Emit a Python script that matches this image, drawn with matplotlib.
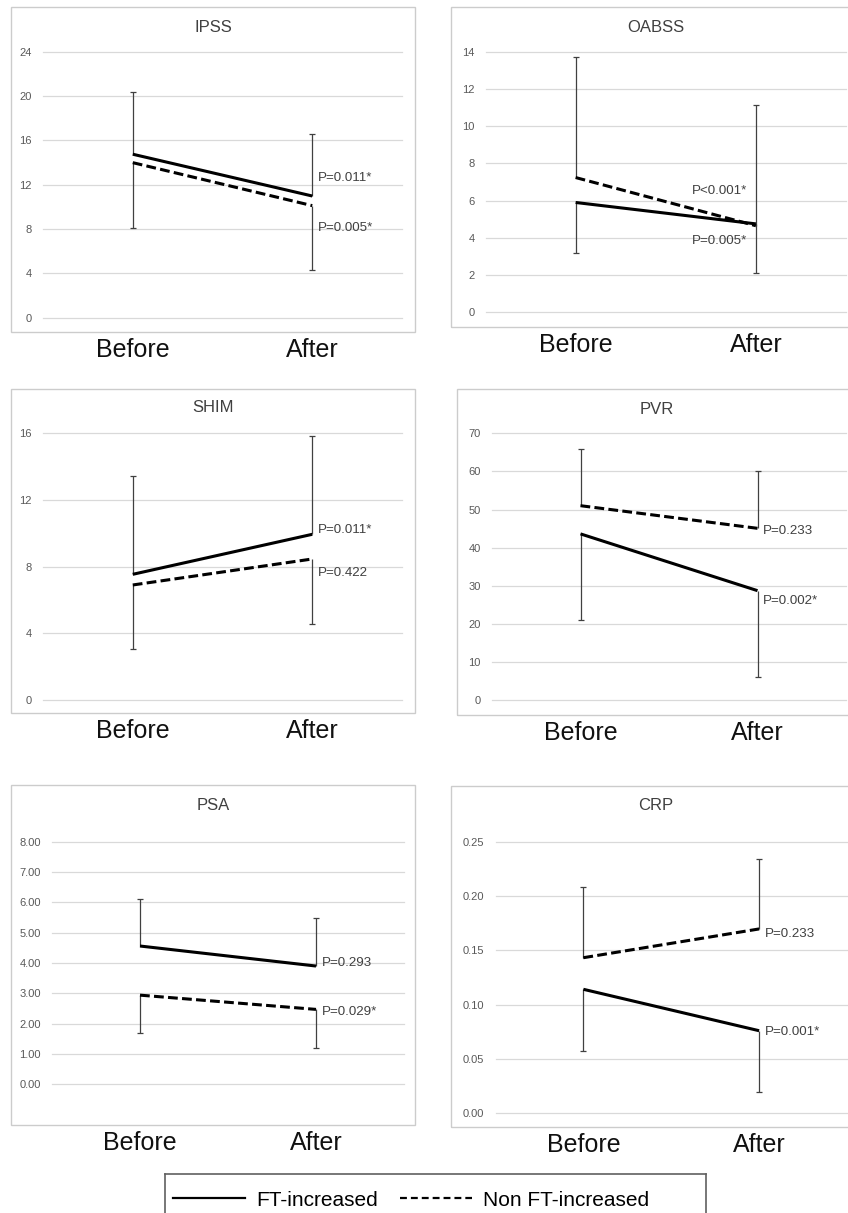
import matplotlib
matplotlib.use("Agg")
import matplotlib.pyplot as plt
from matplotlib.patches import Rectangle
from matplotlib.lines import Line2D

plt.rcParams['font.family'] = ['Liberation Sans', 'DejaVu Sans']

# ---- data ----
titles = ['IPSS', 'OABSS', 'SHIM', 'PVR', 'PSA', 'CRP']
groups = ['Before', 'After']

ft_mean = [[14.75, 10.98], [5.90, 4.75], [7.54, 9.94], [43.6, 28.7], [4.56, 3.90], [0.1141, 0.0758]]
ft_sd = [[5.65, 5.62], [2.73, 2.65], [5.92, 5.92], [22.6, 22.6], [1.54, 1.59], [0.0570, 0.0567]]
non_mean = [[13.99, 10.11], [7.24, 4.65], [6.90, 8.46], [51.0, 45.06], [2.94, 2.47], [0.1433, 0.1699]]
non_sd = [[5.87, 5.81], [6.46, 6.48], [3.86, 3.92], [14.8, 14.94], [1.26, 1.28], [0.0652, 0.0650]]
ft_bar_up = [True, False, True, False, True, False]   # which side the FT-increased error bar goes

p_ft = ['P=0.011*', 'P=0.005*', 'P=0.011*', 'P=0.002*', 'P=0.293', 'P=0.001*']
p_non = ['P=0.005*', 'P<0.001*', 'P=0.422', 'P=0.233', 'P=0.029*', 'P=0.233']
p_ft_y = [12.6, 3.83, 10.2, 26.1, 3.99, 0.0746]
p_non_y = [8.1, 6.52, 7.62, 44.4, 2.39, 0.1653]

yticks = [[0, 4, 8, 12, 16, 20, 24],
          [0, 2, 4, 6, 8, 10, 12, 14],
          [0, 4, 8, 12, 16],
          [0, 10, 20, 30, 40, 50, 60, 70],
          [0, 1, 2, 3, 4, 5, 6, 7, 8],
          [0, 0.05, 0.10, 0.15, 0.20, 0.25]]
ytick_fmt = ['{:.0f}', '{:.0f}', '{:.0f}', '{:.0f}', '{:.2f}', '{:.2f}']

# ---- layout, in pixels of the 848x1213 image ----
W, H = 848, 1213
boxes = [(11, 7, 415, 332), (451, 7, 862, 327),
         (11, 389, 415, 713), (457, 389, 862, 715),
         (11, 785, 415, 1125), (451, 786, 862, 1127)]
areas = [(43, 51.7, 402, 317.7), (485.5, 51.7, 846, 312.3),
         (43, 433.3, 402, 700), (492, 433.3, 846, 700),
         (52, 841.7, 404, 1084.3), (495.5, 842.3, 847, 1112.7)]
title_xy = [(213, 27), (656, 27), (213, 408), (657, 410), (213, 805), (656, 805)]
label_side = ['left', 'right', 'left', 'left', 'left', 'left']

fig = plt.figure(figsize=(W / 100, H / 100), dpi=100)

grid_col = '#d9d9d9'
text_col = '#404040'

for i in range(6):
    bx0, by0, bx1, by1 = boxes[i]
    fig.add_artist(Rectangle((bx0 / W, 1 - by1 / H), (bx1 - bx0) / W, (by1 - by0) / H,
                             transform=fig.transFigure, fill=False, ec='#cccccc', lw=1.0))
    x0, y0, x1, y1 = areas[i]
    ax = fig.add_axes([x0 / W, 1 - y1 / H, (x1 - x0) / W, (y1 - y0) / H])
    ax.set_xlim(-0.5, 1.5)
    ax.set_ylim(yticks[i][0], yticks[i][-1])
    for s in ax.spines.values():
        s.set_visible(False)
    ax.patch.set_alpha(0)
    ax.set_yticks(yticks[i], [ytick_fmt[i].format(v) for v in yticks[i]])
    ax.yaxis.grid(True, color=grid_col, lw=0.9)
    for gl in ax.get_ygridlines():
        gl.set_clip_on(False)
    ax.set_axisbelow(True)
    ax.tick_params(axis='y', length=0, pad=8, labelsize=8, labelcolor='#595959')
    ax.set_xticks([0, 1], groups)
    pad_x = (boxes[i][3] - areas[i][3]) / 1.389 + 4.5
    ax.tick_params(axis='x', length=0, pad=pad_x, labelsize=18, labelcolor='#111111')

    xs = [0, 1]
    # error bars: one side only, Excel style
    for mean, sd, up in [(ft_mean[i], ft_sd[i], ft_bar_up[i]),
                         (non_mean[i], non_sd[i], not ft_bar_up[i])]:
        ends = [m + s if up else m - s for m, s in zip(mean, sd)]
        ax.vlines(xs, mean, ends, color=text_col, lw=0.9, zorder=2)
        ax.plot(xs, ends, ls='none', marker='_', ms=5, mew=0.9, color=text_col, zorder=2,
                clip_on=False)

    ax.plot(xs, ft_mean[i], color='black', lw=2.2, solid_capstyle='butt', zorder=3)
    ax.plot(xs, non_mean[i], color='black', lw=2.2, ls=(0, (3.2, 1.4)), zorder=3)

    if label_side[i] == 'left':
        dx, ha = 4, 'left'
    else:
        dx, ha = -6, 'right'
    for txt, yv in [(p_ft[i], p_ft_y[i]), (p_non[i], p_non_y[i])]:
        ax.annotate(txt, xy=(1, yv), xytext=(dx, 0), textcoords='offset points',
                    ha=ha, va='center', fontsize=9.6, color=text_col)

    tx, ty = title_xy[i]
    fig.text(tx / W, 1 - ty / H, titles[i], ha='center', va='center', fontsize=12, color=text_col)

# ---- legend ----
lax = fig.add_axes([165 / W, 1 - 1232 / H, (706 - 165) / W, (1232 - 1174) / H])
lax.set_xticks([])
lax.set_yticks([])
for s in lax.spines.values():
    s.set_color('#606060')
    s.set_linewidth(1.2)
handles = [Line2D([], [], color='black', lw=1.6),
           Line2D([], [], color='black', lw=1.6, ls=(0, (3.1, 1.8)))]
lax.legend(handles, ['FT-increased', 'Non FT-increased'], ncol=2, frameon=False,
           loc='center left', bbox_to_anchor=(8 / 541, 1 - 26 / 58), borderaxespad=0,
           borderpad=0, fontsize=15, handlelength=3.45, handletextpad=0.55, columnspacing=1.05)

fig.savefig('out.png', dpi=100)
